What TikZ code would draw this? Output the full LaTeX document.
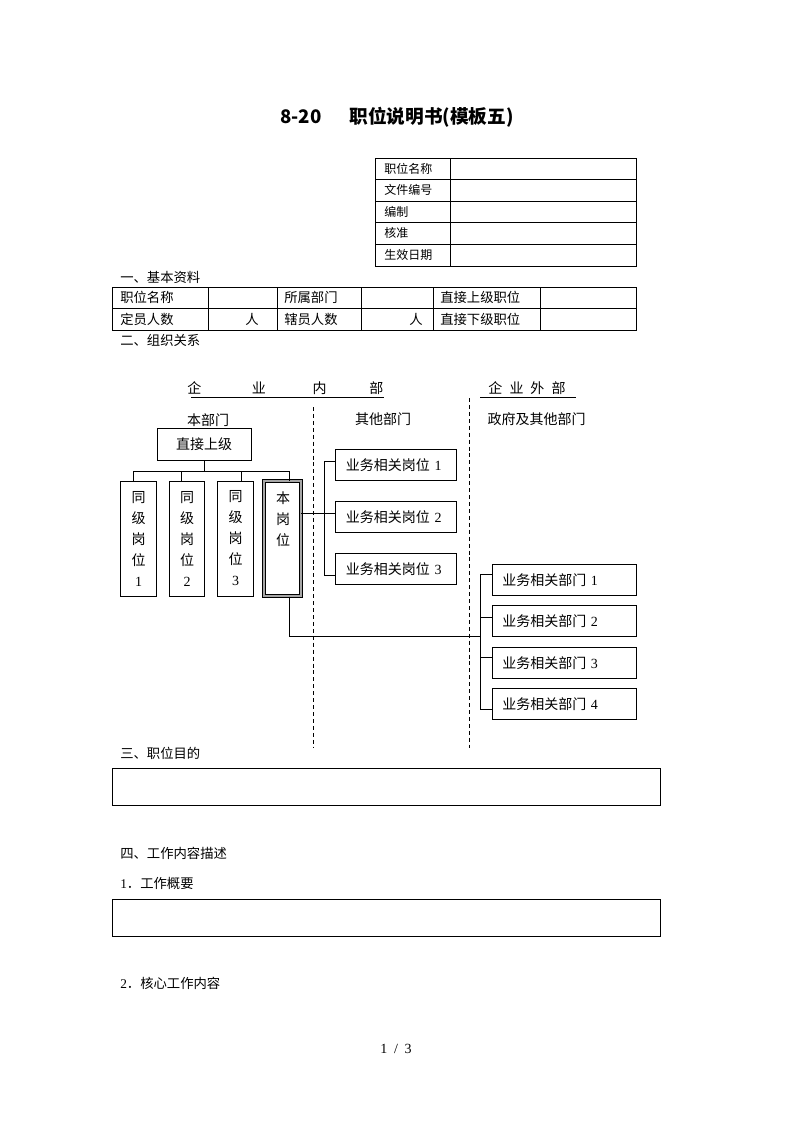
\documentclass[tikz,border=0pt]{standalone}
\usepackage{fontspec}
\setmainfont{Liberation Serif}
\newfontfamily\cjk{Noto Sans CJK SC}
\newcommand\zh[1]{{\cjk #1}}
\begin{document}
\begin{tikzpicture}[x=0.75pt,y=-0.75pt,
  tline/.style={line width=0.75pt},
  box/.style={draw,line width=0.7pt,inner sep=0pt,font=\fontsize{10.5}{15.75}\selectfont},
  peer/.style={box,minimum width={35.5*0.75pt},minimum height={115*0.75pt},align=center},
  opbox/.style={box,minimum height={31*0.75pt},inner xsep={10*0.75pt},align=left,text width={100.7*0.75pt},minimum width={120.7*0.75pt}},
  edbox/.style={box,minimum height={31*0.75pt},inner xsep={10*0.75pt},align=left,text width={124.4*0.75pt},minimum width={144.4*0.75pt}},
  conn/.style={line width=0.7pt},
  divider/.style={line width=0.7pt,dash pattern=on 3pt off 2.2pt},
  lab/.style={inner sep=0pt,font=\fontsize{10.5}{12}\selectfont},
  sec/.style={inner sep=0pt,anchor=west,font=\fontsize{10}{12}\selectfont},
  ttxt/.style={inner sep=0pt,anchor=west,font=\fontsize{9}{11}\selectfont}]
\useasboundingbox (0,0) rectangle (793,1122);
\fill[white] (0,0) rectangle (793,1122);

% title
\node[inner sep=0pt,anchor=west,font=\fontsize{14}{16}\selectfont\cjk\bfseries] (title) at (280,117) {8-20\hspace{21pt}职位说明书(模板五)};

% top table
\draw[tline] (375.5,158.5) rectangle (636,266);
\foreach \yy in {179.5,201,222.5,244} \draw[tline] (375.5,\yy) -- (636,\yy);
\draw[tline] (450,158.5) -- (450,266);
\node[ttxt] (t1) at (384,169) {\zh{职位名称}};
\node[ttxt] (t2) at (384,190.3) {\zh{文件编号}};
\node[ttxt] (t3) at (384,211.8) {\zh{编制}};
\node[ttxt] (t4) at (384,233.3) {\zh{核准}};
\node[ttxt] (t5) at (384,255) {\zh{生效日期}};

% section 1
\node[sec] (s1) at (120,277) {\zh{一、基本资料}};
\draw[tline] (112.5,287) rectangle (636,330);
\draw[tline] (112.5,308.5) -- (636,308.5);
\foreach \xx in {208,277,361,433,540} \draw[tline] (\xx,287) -- (\xx,330);
\node[sec] (b1) at (120,297.8) {\zh{职位名称}};
\node[sec] (b2) at (284,297.8) {\zh{所属部门}};
\node[sec] (b3) at (440,297.8) {\zh{直接上级职位}};
\node[sec] (b4) at (120,319.3) {\zh{定员人数}};
\node[sec,anchor=center] (b5) at (252,319.3) {\zh{人}};
\node[sec] (b6) at (284,319.3) {\zh{辖员人数}};
\node[sec,anchor=center] (b7) at (416,319.3) {\zh{人}};
\node[sec] (b8) at (440,319.3) {\zh{直接下级职位}};

% section 2
\node[sec] (s2) at (120,340) {\zh{二、组织关系}};

% headings
\node[lab,anchor=west] (inner) at (187,388) {\zh{企}\hspace{38pt}\zh{业}\hspace{35pt}\zh{内}\hspace{32pt}\zh{部}};
\draw[conn] (191,397) -- (384,397);
\node[lab,anchor=west] (outer) at (488,388) {\zh{企}\hspace{5.5pt}\zh{业}\hspace{5pt}\zh{外}\hspace{5.5pt}\zh{部}};
\draw[conn] (480,397) -- (576,397);
\node[lab] (h1) at (208,420) {\zh{本部门}};
\node[lab] (h2) at (383,419.5) {\zh{其他部门}};
\node[lab] (h3) at (536.5,419.5) {\zh{政府及其他部门}};

% dividers
\draw[divider] (313,407) -- (313,748);
\draw[divider] (469,398) -- (469,748);

% own department
\node[box,minimum width={94*0.75pt},minimum height={32*0.75pt}] (sup) at (204,444.5) {\zh{直接上级}};
\node[peer] (p1) at (138.5,538.5) {\zh{同}\\\zh{级}\\\zh{岗}\\\zh{位}\\1};
\node[peer] (p2) at (187,538.5) {\zh{同}\\\zh{级}\\\zh{岗}\\\zh{位}\\2};
\node[peer] (p3) at (235.5,538.5) {\zh{同}\\\zh{级}\\\zh{岗}\\\zh{位}\\3};
\node[draw,line width=0.6pt,double=gray!70,double distance=1.6pt,fill=white,inner sep=0pt,
      minimum width={36.6*0.75pt},minimum height={115.2*0.75pt}] (me) at (282.5,538.5) {};
\node[lab,align=center,font=\fontsize{10.5}{15.75}\selectfont] (metext) at (283,519) {\zh{本}\\\zh{岗}\\\zh{位}};

\coordinate (bus1) at (133,471);
\coordinate (bus2) at (181,471);
\coordinate (bus3) at (241,471);
\coordinate (bus4) at (289,471);
\draw[conn] (sup.south) -- (sup.south |- bus1);
\draw[conn] (bus1) -- (bus4);
\draw[conn] (bus1) -- (bus1 |- p1.north);
\draw[conn] (bus2) -- (bus2 |- p2.north);
\draw[conn] (bus3) -- (bus3 |- p3.north);
\draw[conn] (bus4) -- (bus4 |- me.north);

% other departments
\node[opbox] (op1) at (396.3,464.7) {\zh{业务相关岗位} 1};
\node[opbox] (op2) at (396.3,516.7) {\zh{业务相关岗位} 2};
\node[opbox] (op3) at (396.3,568.7) {\zh{业务相关岗位} 3};
\coordinate (mline) at (0,513);
\coordinate (k1) at (324,461);
\coordinate (k3) at (324,575);
\draw[conn] (me.east |- mline) -- (op2.west |- mline);
\draw[conn] (op1.west |- k1) -- (k1) -- (k3) -- (op3.west |- k3);

% external departments
\node[edbox] (ed1) at (564.5,579.8) {\zh{业务相关部门} 1};
\node[edbox] (ed2) at (564.5,621.2) {\zh{业务相关部门} 2};
\node[edbox] (ed3) at (564.5,662.8) {\zh{业务相关部门} 3};
\node[edbox] (ed4) at (564.5,704.2) {\zh{业务相关部门} 4};
\coordinate (e1) at (480,574);
\coordinate (e2) at (480,617);
\coordinate (e3) at (480,657);
\coordinate (e4) at (480,709);
\draw[conn] (ed1.west |- e1) -- (e1) -- (e4) -- (ed4.west |- e4);
\draw[conn] (e2) -- (ed2.west |- e2);
\draw[conn] (e3) -- (ed3.west |- e3);
\coordinate (mb) at (289,636);
\draw[conn] (me.south -| mb) -- (mb) -- (mb -| e1);

% sections 3 and 4
\node[sec] (s3) at (120,753) {\zh{三、职位目的}};
\draw[tline] (112.5,768.5) rectangle (660.5,805.5);
\node[sec] (s4) at (120,853) {\zh{四、工作内容描述}};
\node[sec] (s41) at (120,883) {1\zh{．工作概要}};
\draw[tline] (112.5,899.5) rectangle (660.5,936.5);
\node[sec] (s42) at (120,983) {2\zh{．核心工作内容}};

% footer
\node[inner sep=0pt,font=\fontsize{10.5}{12}\selectfont] (foot) at (396,1049) {1\hspace{5pt}/\hspace{5pt}3};
\end{tikzpicture}
\end{document}
